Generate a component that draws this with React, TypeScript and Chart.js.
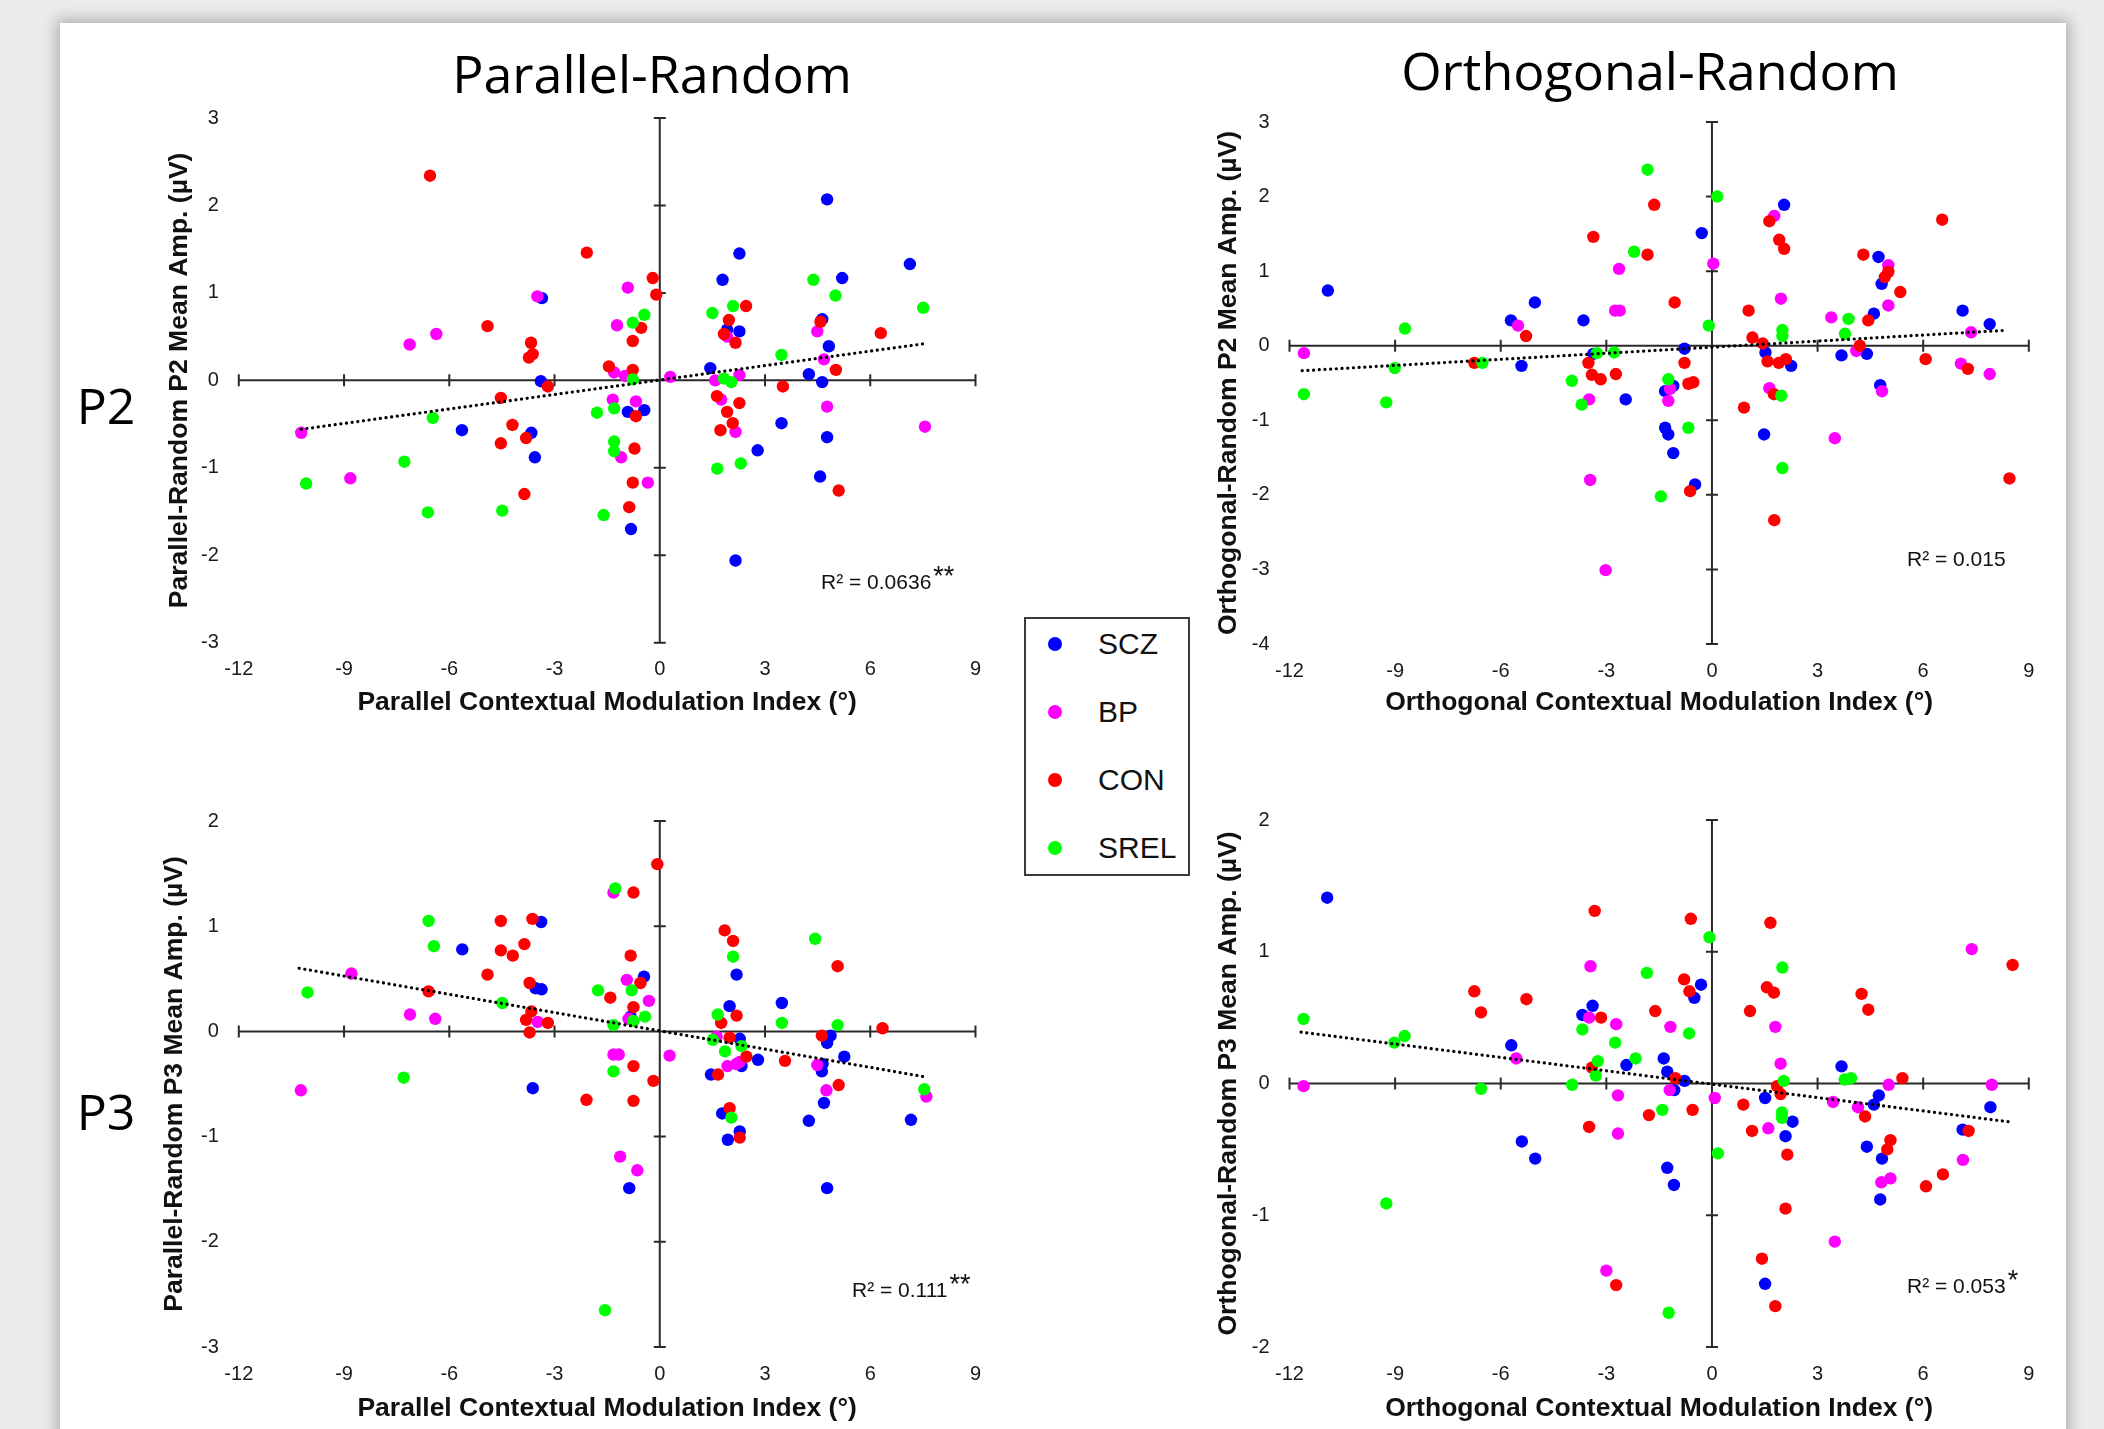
import React, { useEffect, useRef } from "react";
import { Chart, registerables } from "chart.js";

Chart.register(...registerables);

// ---------------- data ----------------
const GROUPS = ["SCZ", "BP", "CON", "SREL"];
const GROUP_COLORS = ["#0000ff", "#ff00ff", "#ff0000", "#00ff00"];

const X_MIN = -12;
const X_MAX = 9;
const X_STEP = 3;

// Parallel-Random, P2
const PAR_P2_SCZ: [number, number][] = [
  [-3.36, 0.94], [-3.39, -0.01], [-5.64, -0.57], [-3.66, -0.6], [-3.56, -0.88], [-0.91, -0.36], [-0.44, -0.34],
  [-0.82, -1.7], [4.77, 2.07], [2.27, 1.45], [7.13, 1.33], [1.79, 1.15], [5.2, 1.17], [4.63, 0.7], [1.92, 0.58],
  [2.27, 0.56], [4.82, 0.39], [1.44, 0.14], [4.25, 0.07], [4.63, -0.02], [3.47, -0.49], [4.77, -0.65], [2.79, -0.8],
  [4.57, -1.1], [2.16, -2.06],
];
const PAR_P2_BP: [number, number][] = [
  [-3.49, 0.96], [-1.22, 0.63], [-6.37, 0.53], [-7.13, 0.41], [-10.22, -0.6], [-8.82, -1.12], [-0.91, 1.06],
  [-1.3, 0.09], [-0.99, 0.05], [0.3, 0.04], [-1.34, -0.22], [-0.68, -0.24], [-1.1, -0.88], [-0.34, -1.17],
  [4.49, 0.56], [1.92, 0.5], [4.68, 0.24], [1.58, 0.0], [2.27, 0.06], [1.75, -0.22], [2.16, -0.59], [4.77, -0.3],
  [7.56, -0.53],
];
const PAR_P2_CON: [number, number][] = [
  [-6.55, 2.34], [-2.08, 1.46], [-4.91, 0.62], [-3.67, 0.43], [-3.62, 0.3], [-3.73, 0.26], [-1.45, 0.16],
  [-3.19, -0.07], [-4.53, -0.2], [-4.2, -0.51], [-3.81, -0.66], [-4.53, -0.72], [-3.86, -1.3], [-0.2, 1.17],
  [-0.1, 0.98], [-0.53, 0.6], [-0.77, 0.45], [-0.77, 0.12], [-0.68, -0.41], [-0.72, -0.78], [-0.77, -1.17],
  [-0.87, -1.45], [2.46, 0.85], [1.97, 0.69], [4.58, 0.67], [1.83, 0.53], [6.3, 0.54], [2.16, 0.43], [5.02, 0.12],
  [3.51, -0.07], [1.63, -0.18], [2.27, -0.26], [1.92, -0.36], [2.08, -0.49], [1.73, -0.57], [5.1, -1.26],
];
const PAR_P2_SREL: [number, number][] = [
  [-6.47, -0.43], [-7.28, -0.93], [-10.08, -1.18], [-6.61, -1.51], [-4.49, -1.49], [-1.6, -1.54], [-1.79, -0.37],
  [-0.44, 0.75], [-0.77, 0.66], [-0.77, 0.01], [-1.3, -0.32], [-1.3, -0.7], [-1.3, -0.81], [4.38, 1.15],
  [5.01, 0.97], [1.5, 0.77], [2.09, 0.85], [7.51, 0.83], [3.47, 0.29], [1.83, 0.02], [2.04, -0.02], [1.64, -1.01],
  [2.31, -0.95],
];
const PAR_P2_TREND: [number, number][] = [[-10.22, -0.56], [7.56, 0.42]];

// Orthogonal-Random, P2
const ORT_P2_SCZ: [number, number][] = [
  [-10.91, 0.74], [-5.03, 0.58], [-3.65, 0.34], [-5.71, 0.34], [-5.41, -0.27], [-3.37, -0.11], [-2.45, -0.72],
  [-0.29, 1.51], [-0.78, -0.04], [-1.33, -0.61], [-1.1, -0.54], [-1.33, -1.1], [-1.24, -1.19], [-1.1, -1.44],
  [-0.48, -1.86], [2.05, 1.89], [4.73, 1.19], [4.82, 0.83], [7.12, 0.47], [4.6, 0.43], [7.89, 0.29], [1.52, -0.09],
  [2.25, -0.27], [3.68, -0.13], [4.4, -0.11], [4.78, -0.53], [1.48, -1.19],
];
const ORT_P2_BP: [number, number][] = [
  [-2.64, 1.03], [-2.75, 0.47], [-2.62, 0.47], [-5.51, 0.27], [-11.59, -0.1], [-3.49, -0.72], [-3.46, -1.8],
  [-3.02, -3.01], [0.04, 1.1], [-1.19, -0.58], [-1.24, -0.74], [1.77, 1.74], [5.01, 1.08], [1.96, 0.63],
  [5.01, 0.54], [3.39, 0.38], [7.36, 0.18], [4.1, -0.07], [7.07, -0.24], [7.89, -0.38], [1.63, -0.57],
  [4.83, -0.61], [3.49, -1.24],
];
const ORT_P2_CON: [number, number][] = [
  [-1.64, 1.89], [-3.37, 1.46], [-1.83, 1.22], [-5.28, 0.13], [-1.06, 0.58], [-6.75, -0.23], [-3.51, -0.23],
  [-3.41, -0.39], [-3.16, -0.45], [-2.73, -0.38], [-0.78, -0.23], [-0.67, -0.51], [-0.53, -0.49], [-0.62, -1.95],
  [1.63, 1.67], [1.91, 1.42], [2.05, 1.3], [6.54, 1.69], [4.3, 1.22], [5.01, 0.99], [4.91, 0.92], [5.35, 0.72],
  [1.04, 0.47], [4.44, 0.34], [1.15, 0.11], [1.44, 0.03], [4.2, 0.0], [1.58, -0.21], [1.9, -0.23], [2.1, -0.18],
  [6.07, -0.18], [7.27, -0.31], [1.76, -0.65], [0.91, -0.83], [8.45, -1.78], [1.77, -2.34],
];
const ORT_P2_SREL: [number, number][] = [
  [-1.83, 2.36], [-2.21, 1.26], [-8.72, 0.23], [-6.52, -0.23], [-9.01, -0.3], [-11.59, -0.65], [-9.25, -0.76],
  [-3.27, -0.1], [-2.78, -0.09], [-3.98, -0.47], [-3.7, -0.79], [-1.45, -2.02], [0.15, 2.0], [-0.09, 0.27],
  [-1.24, -0.45], [-0.67, -1.1], [3.88, 0.36], [2.0, 0.21], [2.0, 0.13], [3.78, 0.16], [1.97, -0.67], [2.0, -1.64],
];
const ORT_P2_TREND: [number, number][] = [[-11.64, -0.335], [8.31, 0.206]];

// Parallel-Random, P3
const PAR_P3_SCZ: [number, number][] = [
  [-3.38, 1.04], [-5.63, 0.78], [-3.54, 0.41], [-3.37, 0.4], [-3.62, -0.54], [-0.45, 0.52], [-0.83, 0.14],
  [-0.87, -1.49], [2.19, 0.54], [3.48, 0.27], [1.99, 0.24], [2.28, -0.07], [4.87, -0.04], [4.77, -0.11],
  [2.8, -0.27], [5.26, -0.24], [2.33, -0.33], [4.64, -0.31], [4.62, -0.38], [1.46, -0.41], [4.68, -0.68],
  [1.78, -0.78], [4.25, -0.85], [7.16, -0.84], [2.28, -0.95], [1.94, -1.03], [4.77, -1.49],
];
const PAR_P3_BP: [number, number][] = [
  [-1.32, 1.32], [-8.79, 0.55], [-7.12, 0.16], [-6.4, 0.12], [-3.48, 0.09], [-1.32, -0.22], [-1.17, -0.22],
  [-10.23, -0.56], [-1.13, -1.19], [-0.94, 0.49], [-0.31, 0.29], [-0.89, 0.12], [0.28, -0.23], [-0.64, -1.32],
  [1.62, -0.05], [1.93, -0.33], [2.18, -0.31], [2.28, -0.29], [4.49, -0.32], [4.75, -0.56], [7.6, -0.62],
];
const PAR_P3_CON: [number, number][] = [
  [-4.53, 1.05], [-3.63, 1.07], [-4.53, 0.77], [-4.19, 0.72], [-3.86, 0.83], [-4.91, 0.54], [-3.71, 0.46],
  [-1.41, 0.32], [-6.59, 0.38], [-3.66, 0.19], [-3.81, 0.11], [-3.19, 0.08], [-3.71, -0.01], [-2.09, -0.65],
  [-0.07, 1.59], [-0.75, 1.32], [-0.83, 0.72], [-0.55, 0.46], [-0.75, 0.23], [-0.75, -0.33], [-0.18, -0.47],
  [-0.75, -0.66], [1.85, 0.96], [2.09, 0.86], [5.07, 0.62], [1.75, 0.08], [2.19, 0.15], [6.35, 0.03],
  [1.99, -0.06], [4.62, -0.04], [2.47, -0.24], [3.57, -0.28], [1.66, -0.41], [5.1, -0.51], [1.99, -0.73],
  [2.28, -1.01],
];
const PAR_P3_SREL: [number, number][] = [
  [-1.27, 1.36], [-6.59, 1.05], [-6.44, 0.81], [-10.04, 0.37], [-4.49, 0.27], [-1.76, 0.39], [-1.32, 0.06],
  [-1.32, -0.38], [-7.3, -0.44], [-1.56, -2.65], [-0.8, 0.39], [-0.42, 0.14], [-0.75, 0.1], [2.09, 0.71],
  [4.43, 0.88], [1.65, 0.16], [3.48, 0.08], [5.07, 0.06], [1.51, -0.08], [2.33, -0.14], [1.86, -0.19],
  [7.54, -0.55], [2.04, -0.82],
];
const PAR_P3_TREND: [number, number][] = [[-10.28, 0.6], [7.52, -0.43]];

// Orthogonal-Random, P3
const ORT_P3_SCZ: [number, number][] = [
  [-10.93, 1.41], [-3.39, 0.59], [-3.68, 0.52], [-5.7, 0.29], [-2.43, 0.14], [-1.37, 0.19], [-1.27, 0.09],
  [-5.4, -0.44], [-5.02, -0.57], [-1.27, -0.64], [-1.08, -0.77], [-0.31, 0.75], [-0.5, 0.65], [-0.78, 0.02],
  [-1.07, -0.05], [3.68, 0.13], [1.51, -0.11], [4.74, -0.09], [4.6, -0.16], [7.91, -0.18], [2.29, -0.29],
  [2.09, -0.4], [7.12, -0.35], [4.4, -0.48], [4.83, -0.57], [4.78, -0.88], [1.51, -1.52],
];
const ORT_P3_BP: [number, number][] = [
  [-3.45, 0.89], [-3.49, 0.5], [-2.72, 0.45], [-5.56, 0.19], [-11.6, -0.02], [-2.67, -0.09], [-1.2, -0.05],
  [-2.67, -0.38], [-3.0, -1.42], [-1.18, 0.43], [0.08, -0.11], [7.38, 1.02], [1.8, 0.43], [1.95, 0.15],
  [5.02, -0.01], [7.95, -0.01], [3.44, -0.14], [4.15, -0.18], [1.6, -0.34], [7.13, -0.58], [4.81, -0.75],
  [5.07, -0.72], [3.49, -1.2],
];
const ORT_P3_CON: [number, number][] = [
  [-3.33, 1.31], [-6.75, 0.7], [-5.27, 0.64], [-6.56, 0.54], [-3.15, 0.5], [-1.61, 0.55], [-3.41, 0.12],
  [-1.79, -0.24], [-3.49, -0.33], [-2.72, -1.53], [-0.6, 1.25], [-0.79, 0.79], [-0.64, 0.7], [-1.04, 0.04],
  [-0.55, -0.2], [1.66, 1.22], [1.56, 0.73], [1.76, 0.69], [1.08, 0.55], [4.25, 0.68], [4.44, 0.56], [8.54, 0.9],
  [5.41, 0.04], [1.85, -0.02], [1.95, -0.08], [0.89, -0.16], [4.35, -0.25], [1.14, -0.36], [7.29, -0.36],
  [5.07, -0.43], [4.98, -0.5], [2.14, -0.54], [6.56, -0.69], [6.08, -0.78], [2.09, -0.95], [1.42, -1.33],
  [1.8, -1.69],
];
const ORT_P3_SREL: [number, number][] = [
  [-1.85, 0.84], [-11.6, 0.49], [-3.68, 0.41], [-2.75, 0.31], [-8.73, 0.36], [-9.02, 0.31], [-2.17, 0.19],
  [-3.24, 0.17], [-3.3, 0.06], [-6.56, -0.04], [-3.97, -0.01], [-1.41, -0.2], [-9.25, -0.91], [-1.23, -1.74],
  [-0.07, 1.11], [-0.65, 0.38], [0.17, -0.53], [2.0, 0.88], [3.77, 0.03], [3.95, 0.04], [2.04, 0.02],
  [1.99, -0.22], [1.99, -0.26],
];
const ORT_P3_TREND: [number, number][] = [[-11.67, 0.39], [8.41, -0.29]];

const COLUMN_TITLES = ["Parallel-Random", "Orthogonal-Random"];
const ROW_LABELS = ["P2", "P3"];
const R2_TEXTS = ["R² = 0.0636", "R² = 0.015", "R² = 0.111", "R² = 0.053"];
const R2_STARS = ["**", "", "**", "*"];

// ---------------- layout / style ----------------
const SANS = '"Liberation Sans", Arial, Helvetica, sans-serif';
const TITLE_FONT = '"Open Sans", "Noto Sans", sans-serif';
const AXIS_TITLE_SIZE = 26.5;

if (typeof document !== "undefined") {
  document.body.style.margin = "0";
}

type Panel = {
  left: number; top: number; w: number; h: number;
  padTop: number; padRight: number; yW: number; xH: number;
  yMin: number; yMax: number;
  xTitle: string; yTitle: string; yTitlePad: number; xTitlePad: number;
  groups: [number, number][][]; trend: [number, number][];
};

const PANELS: Panel[] = [
  {
    left: 150, top: 82, w: 850, h: 638, padTop: 36, padRight: 24.5, yW: 88.8, xH: 77.3,
    yMin: -3, yMax: 3,
    xTitle: "Parallel Contextual Modulation Index (°)", yTitle: "Parallel-Random P2 Mean Amp. (µV)",
    yTitlePad: 14, xTitlePad: 1,
    groups: [PAR_P2_SCZ, PAR_P2_BP, PAR_P2_CON, PAR_P2_SREL], trend: PAR_P2_TREND,
  },
  {
    left: 1200, top: 86, w: 860, h: 634, padTop: 36, padRight: 31.2, yW: 89.5, xH: 76,
    yMin: -4, yMax: 3,
    xTitle: "Orthogonal Contextual Modulation Index (°)", yTitle: "Orthogonal-Random P2 Mean Amp. (µV)",
    yTitlePad: 13, xTitlePad: 1,
    groups: [ORT_P2_SCZ, ORT_P2_BP, ORT_P2_CON, ORT_P2_SREL], trend: ORT_P2_TREND,
  },
  {
    left: 150, top: 785, w: 850, h: 644, padTop: 36, padRight: 24.5, yW: 88.8, xH: 82,
    yMin: -3, yMax: 2,
    xTitle: "Parallel Contextual Modulation Index (°)", yTitle: "Parallel-Random P3 Mean Amp. (µV)",
    yTitlePad: 9, xTitlePad: 4,
    groups: [PAR_P3_SCZ, PAR_P3_BP, PAR_P3_CON, PAR_P3_SREL], trend: PAR_P3_TREND,
  },
  {
    left: 1200, top: 784, w: 860, h: 645, padTop: 36, padRight: 31.2, yW: 89.5, xH: 82,
    yMin: -2, yMax: 2,
    xTitle: "Orthogonal Contextual Modulation Index (°)", yTitle: "Orthogonal-Random P3 Mean Amp. (µV)",
    yTitlePad: 13, xTitlePad: 4,
    groups: [ORT_P3_SCZ, ORT_P3_BP, ORT_P3_CON, ORT_P3_SREL], trend: ORT_P3_TREND,
  },
];

const R2_POS = [
  { left: 821, top: 580 },
  { left: 1907, top: 558 },
  { left: 852, top: 1288 },
  { left: 1907, top: 1284 },
];

const crossAxes = {
  id: "crossAxes",
  beforeDatasetsDraw(chart: any) {
    const { ctx } = chart;
    const xs = chart.scales.x;
    const ys = chart.scales.y;
    const x0 = xs.getPixelForValue(0);
    const y0 = ys.getPixelForValue(0);
    const half = 6;
    ctx.save();
    ctx.strokeStyle = "#2a2a2a";
    ctx.lineWidth = 2;
    ctx.beginPath();
    ctx.moveTo(xs.getPixelForValue(xs.min), y0);
    ctx.lineTo(xs.getPixelForValue(xs.max), y0);
    ctx.moveTo(x0, ys.getPixelForValue(ys.max));
    ctx.lineTo(x0, ys.getPixelForValue(ys.min));
    xs.ticks.forEach((t: any) => {
      if (t.value === 0) return;
      const px = xs.getPixelForValue(t.value);
      ctx.moveTo(px, y0 - half);
      ctx.lineTo(px, y0 + half);
    });
    ys.ticks.forEach((t: any) => {
      if (t.value === 0) return;
      const py = ys.getPixelForValue(t.value);
      ctx.moveTo(x0 - half, py);
      ctx.lineTo(x0 + half, py);
    });
    ctx.stroke();
    ctx.restore();
  },
};

function ScatterPanel({ p }: { p: Panel }) {
  const ref = useRef<HTMLCanvasElement | null>(null);
  useEffect(() => {
    if (!ref.current) return;
    const datasets: any[] = [
      {
        label: "trend",
        data: p.trend.map(([x, y]) => ({ x, y })),
        showLine: true,
        borderColor: "#000",
        borderWidth: 3.2,
        borderDash: [0.1, 5.6],
        borderCapStyle: "round",
        pointRadius: 0,
        fill: false,
        order: 0,
      },
      ...p.groups.map((pts, i) => ({
        label: GROUPS[i],
        data: pts.map(([x, y]) => ({ x, y })),
        backgroundColor: GROUP_COLORS[i],
        borderColor: GROUP_COLORS[i],
        borderWidth: 0,
        pointRadius: 6.2,
        pointHoverRadius: 6.2,
        order: 4 - i,
      })),
    ];
    const chart = new Chart(ref.current, {
      type: "scatter",
      data: { datasets },
      plugins: [crossAxes],
      options: {
        responsive: false,
        animation: false,
        events: [],
        layout: { padding: { top: p.padTop, right: p.padRight, left: 0, bottom: 0 } },
        plugins: { legend: { display: false }, tooltip: { enabled: false } },
        scales: {
          x: {
            type: "linear",
            min: X_MIN,
            max: X_MAX,
            position: "bottom",
            grid: { display: false, drawTicks: false },
            border: { display: false },
            ticks: {
              stepSize: X_STEP,
              padding: 15,
              color: "#1a1a1a",
              maxRotation: 0,
              autoSkip: false,
              font: { family: SANS, size: 20 },
            },
            title: {
              display: true,
              text: p.xTitle,
              color: "#111",
              font: { family: SANS, size: AXIS_TITLE_SIZE, weight: "bold" },
              padding: { top: 0, bottom: p.xTitlePad },
            },
            afterFit: (s: any) => { s.height = p.xH; },
          },
          y: {
            type: "linear",
            min: p.yMin,
            max: p.yMax,
            grid: { display: false, drawTicks: false },
            border: { display: false },
            ticks: {
              stepSize: 1,
              padding: 20,
              color: "#1a1a1a",
              autoSkip: false,
              font: { family: SANS, size: 20 },
            },
            title: {
              display: true,
              text: p.yTitle,
              color: "#111",
              font: { family: SANS, size: AXIS_TITLE_SIZE, weight: "bold" },
              padding: { top: p.yTitlePad, bottom: 0 },
            },
            afterFit: (s: any) => { s.width = p.yW; },
          },
        },
      } as any,
    });
    return () => chart.destroy();
  }, [p]);
  return (
    <canvas
      ref={ref}
      width={p.w}
      height={p.h}
      style={{ position: "absolute", left: p.left, top: p.top, width: p.w, height: p.h }}
    />
  );
}

const centered: React.CSSProperties = {
  position: "absolute",
  transform: "translate(-50%, -50%)",
  lineHeight: 1,
  whiteSpace: "nowrap",
  color: "#000",
};

export default function App() {
  return (
    <div
      style={{
        position: "relative",
        width: 2104,
        height: 1429,
        overflow: "hidden",
        background: "#ebebeb",
        fontFamily: SANS,
      }}
    >
      <div
        style={{
          position: "absolute",
          left: 60,
          top: 23,
          width: 2006,
          height: 1500,
          background: "#ffffff",
          boxShadow: "0 0 14px 3px rgba(0,0,0,0.28)",
        }}
      />
      <div style={{ ...centered, left: 652, top: 73, fontFamily: TITLE_FONT, fontSize: 52 }}>{COLUMN_TITLES[0]}</div>
      <div style={{ ...centered, left: 1650, top: 70, fontFamily: TITLE_FONT, fontSize: 52 }}>{COLUMN_TITLES[1]}</div>
      <div style={{ ...centered, left: 106, top: 405, fontFamily: TITLE_FONT, fontSize: 50 }}>{ROW_LABELS[0]}</div>
      <div style={{ ...centered, left: 106, top: 1111, fontFamily: TITLE_FONT, fontSize: 50 }}>{ROW_LABELS[1]}</div>

      {PANELS.map((p, i) => (
        <ScatterPanel key={i} p={p} />
      ))}

      {R2_POS.map((pos, i) => (
        <div
          key={"r2" + i}
          style={{
            position: "absolute",
            left: pos.left,
            top: pos.top,
            transform: "translateY(-50%)",
            fontFamily: SANS,
            fontSize: 21,
            lineHeight: 1,
            whiteSpace: "nowrap",
            color: "#111",
          }}
        >
          {R2_TEXTS[i]}
          {R2_STARS[i] ? (
            <span style={{ fontSize: 27, position: "relative", top: -4, marginLeft: 2 }}>{R2_STARS[i]}</span>
          ) : null}
        </div>
      ))}

      <div
        style={{
          position: "absolute",
          left: 1024,
          top: 617,
          width: 162,
          height: 255,
          border: "2px solid #3a3a3a",
          background: "#fff",
        }}
      />
      {GROUPS.map((g, i) => {
        const cy = [644, 712, 780, 848][i];
        return (
          <React.Fragment key={g}>
            <div
              style={{
                position: "absolute",
                left: 1055 - 7,
                top: cy - 7,
                width: 14,
                height: 14,
                borderRadius: "50%",
                background: GROUP_COLORS[i],
              }}
            />
            <div
              style={{
                position: "absolute",
                left: 1098,
                top: cy,
                transform: "translateY(-50%)",
                fontFamily: SANS,
                fontSize: 30,
                lineHeight: 1,
                color: "#111",
              }}
            >
              {g}
            </div>
          </React.Fragment>
        );
      })}
    </div>
  );
}
